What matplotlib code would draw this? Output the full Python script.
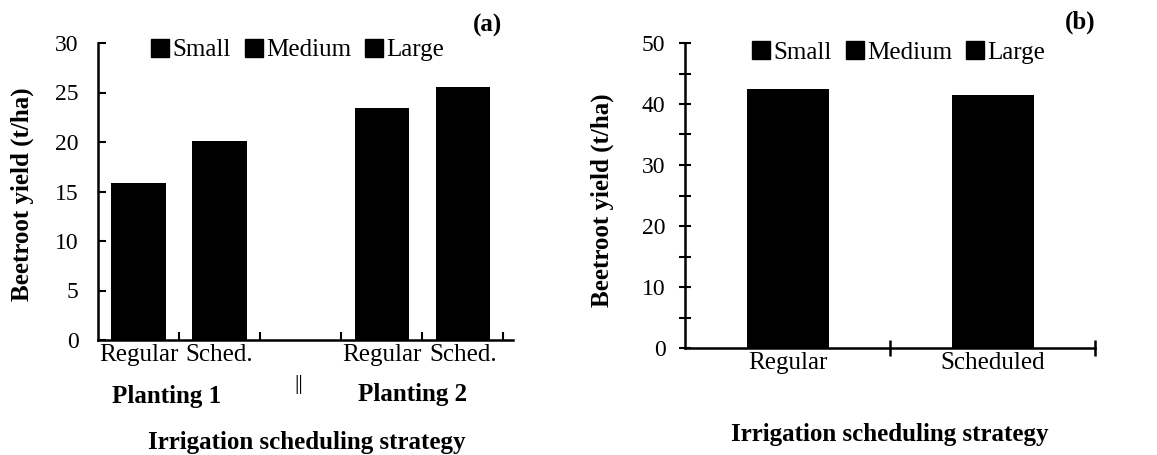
import numpy as np
import matplotlib
matplotlib.use('Agg')
from matplotlib import pyplot as plt
from matplotlib.lines import Line2D

plt.rcParams['font.family'] = ['Liberation Serif', 'DejaVu Serif']

# panel (a): two plantings, middle slot left empty as a separator
cats_a = ['Regular', 'Sched.', '', 'Regular', 'Sched.']
small_a = [3.5, 2.5, 0, 5.0, 3.0]
medium_a = [6.0, 7.0, 0, 11.9, 9.0]
large_a = [6.4, 10.6, 0, 6.5, 13.6]

# panel (b): season totals
cats_b = ['Regular', 'Scheduled']
small_b = [3.5, 4.3]
medium_b = [8.0, 14.7]
large_b = [30.9, 22.5]

sizes = ['Small', 'Medium', 'Large']
colors = ['black', 'black', 'black']

fig = plt.figure(figsize=(11.57, 4.55), dpi=100)
ax1 = fig.add_axes([98/1157, 1-340/455, 415/1157, 297/455])
ax2 = fig.add_axes([685/1157, 1-348/455, 410/1157, 305/455])


def stack(ax, cats, parts, width):
    x = np.arange(len(cats))
    bottom = np.zeros(len(cats))
    for vals, c in zip(parts, colors):
        vals = np.array(vals, dtype=float)
        ax.bar(x, vals, width, bottom=bottom, color=c, linewidth=0)
        bottom += vals
    return x


def style(ax, anchor):
    for s in ['top', 'right']:
        ax.spines[s].set_visible(False)
    for s in ['left', 'bottom']:
        ax.spines[s].set_linewidth(1.8)
    handles = [Line2D([], [], marker='s', color='black', linestyle='none', markersize=13)
               for _ in sizes]
    ax.legend(handles, sizes, ncol=3, frameon=False, loc='upper center',
              bbox_to_anchor=anchor, fontsize=18, handletextpad=0.1,
              columnspacing=0.5, handlelength=0.8)


x = stack(ax1, cats_a, [small_a, medium_a, large_a], 0.67)
ax1.set_xlim(-0.5, 4.62)
ax1.set_ylim(0, 30)
ax1.set_yticks(np.arange(0, 31, 5))
ax1.set_xticks(x)
ax1.set_xticklabels(cats_a, fontsize=18)
ax1.set_xticks(np.arange(0.5, 4.6, 1), minor=True)
ax1.tick_params(axis='x', which='major', length=0, pad=3)
ax1.tick_params(axis='x', which='minor', direction='in', length=6, width=1.5)
ax1.tick_params(axis='y', direction='in', length=6, width=1.5, labelsize=17, pad=14)
style(ax1, (0.48, 1.09))

x = stack(ax2, cats_b, [small_b, medium_b, large_b], 0.4)
ax2.set_xlim(-0.5, 1.5)
ax2.set_ylim(0, 50)
ax2.set_yticks(np.arange(0, 51, 10))
ax2.set_yticks(np.arange(5, 50, 10), minor=True)
ax2.set_xticks(x)
ax2.set_xticklabels(cats_b, fontsize=18)
ax2.set_xticks([0.5, 1.5], minor=True)
ax2.tick_params(axis='x', which='major', length=0, pad=3)
ax2.tick_params(axis='x', which='minor', direction='inout', length=12, width=1.8)
ax2.tick_params(axis='y', which='both', direction='inout', length=8, width=1.5,
                labelsize=17, pad=10)
style(ax2, (0.52, 1.08))

bold = dict(fontsize=18, fontweight='bold', ha='center', va='center')
fig.text(22/1157, 1-194/455, 'Beetroot yield (t/ha)', rotation=90, **bold)
fig.text(602/1157, 1-200/455, 'Beetroot yield (t/ha)', rotation=90, **bold)
fig.text(307/1157, 1-443/455, 'Irrigation scheduling strategy', **bold)
fig.text(890/1157, 1-435/455, 'Irrigation scheduling strategy', **bold)
fig.text(167/1157, 1-396/455, 'Planting 1', **bold)
fig.text(413/1157, 1-394/455, 'Planting 2', **bold)
fig.text(299/1157, 1-385/455, '||', fontsize=16, ha='center', va='center')
fig.text(488/1157, 1-25/455, '(a)', **bold)
fig.text(1080/1157, 1-22/455, '(b)', **bold)

fig.savefig('out.png', dpi=100)
